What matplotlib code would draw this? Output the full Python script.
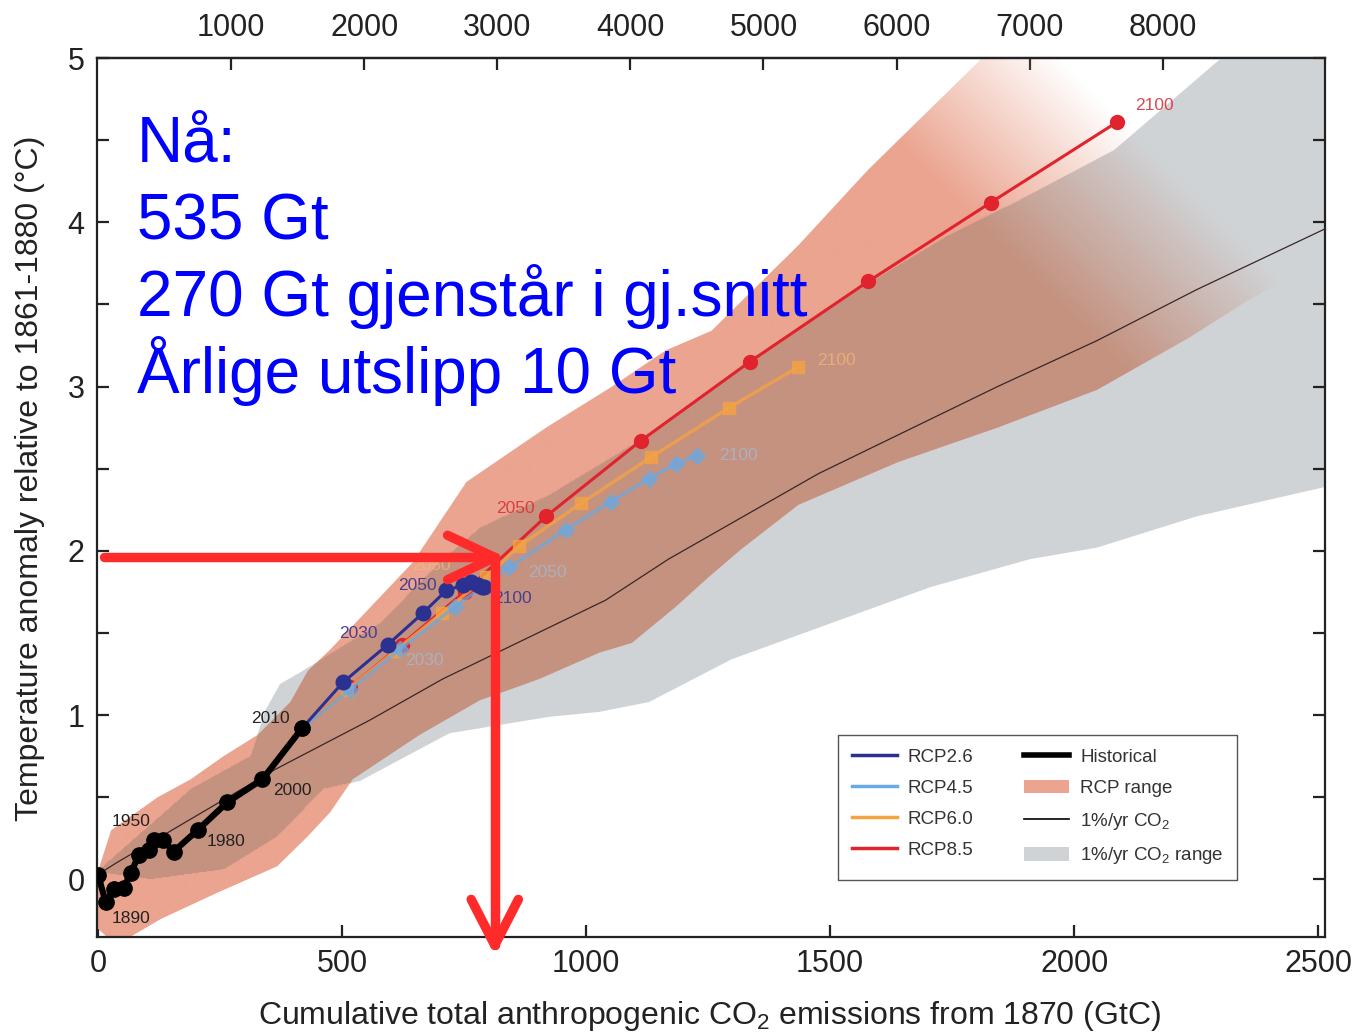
import numpy as np
import matplotlib
matplotlib.use("Agg")
import matplotlib.pyplot as plt
from matplotlib.path import Path
from matplotlib.patches import Polygon, Patch
from matplotlib.lines import Line2D

plt.rcParams['font.family'] = ['Liberation Sans', 'DejaVu Sans']
plt.rcParams['mathtext.fontset'] = 'custom'
plt.rcParams['mathtext.rm'] = 'Liberation Sans'
plt.rcParams['mathtext.it'] = 'Liberation Sans:italic'
plt.rcParams['mathtext.bf'] = 'Liberation Sans:bold'

# ---------------- data (GtC, degC) ----------------
hist_x = [0, 16, 33, 53, 67, 84, 104, 114, 133, 155, 204, 265, 337, 418]
hist_y = [0.03, -0.14, -0.06, -0.05, 0.04, 0.15, 0.18, 0.24, 0.24, 0.17, 0.30, 0.47, 0.61, 0.92]

rcp26_x = [418, 502, 594, 665, 714, 747, 765, 778, 786, 790]
rcp26_y = [0.92, 1.20, 1.43, 1.62, 1.76, 1.79, 1.81, 1.79, 1.78, 1.78]
rcp45_x = [418, 516, 618, 731, 843, 959, 1051, 1129, 1184, 1227]
rcp45_y = [0.92, 1.155, 1.40, 1.66, 1.90, 2.13, 2.30, 2.44, 2.53, 2.58]
rcp60_x = [418, 510, 608, 704, 796, 863, 990, 1133, 1292, 1435]
rcp60_y = [0.92, 1.155, 1.39, 1.62, 1.84, 2.03, 2.29, 2.57, 2.87, 3.12]
rcp85_x = [418, 516, 622, 751, 918, 1112, 1335, 1578, 1829, 2088]
rcp85_y = [0.92, 1.17, 1.43, 1.75, 2.21, 2.67, 3.15, 3.64, 4.12, 4.61]

pct_x = [0, 37, 363, 557, 706, 1040, 1169, 1476, 1843, 2047, 2251, 2514]
pct_y = [0.03, 0.10, 0.67, 0.97, 1.22, 1.70, 1.95, 2.47, 3.00, 3.28, 3.59, 3.96]

grey_upper_x = [6, 190, 312, 343, 373, 414, 578, 700, 782, 924, 1108, 1333, 1578, 1741, 1884, 2082, 2341, 2530]
grey_upper_y = [0.07, 0.55, 0.75, 1.03, 1.19, 1.26, 1.56, 1.93, 2.14, 2.34, 2.67, 3.15, 3.63, 3.92, 4.13, 4.44, 5.1, 5.1]
grey_lower_x = [2530, 2251, 2047, 1910, 1706, 1502, 1298, 1129, 1027, 924, 720, 537, 461, 367, 257, 108, 6]
grey_lower_y = [2.40, 2.21, 2.02, 1.95, 1.78, 1.56, 1.34, 1.08, 1.02, 0.99, 0.89, 0.60, 0.55, 0.26, 0.06, 0.0, 0.04]

rcp_upper_x = [0, 27, 122, 190, 257, 327, 394, 430, 476, 645, 755, 918, 1053, 1163, 1257, 1435, 1578, 1846, 2350]
rcp_upper_y = [0.05, 0.30, 0.50, 0.61, 0.75, 0.88, 1.08, 1.27, 1.40, 1.93, 2.42, 2.75, 3.00, 3.22, 3.34, 3.86, 4.32, 5.1, 5.1]
rcp_lower_x = [2450, 2414, 2359, 2237, 2047, 1843, 1639, 1435, 1318, 1251, 1184, 1094, 1027, 904, 782, 659, 522, 476, 429, 367, 245, 129, 37, 0]
rcp_lower_y = [3.90, 3.62, 3.53, 3.30, 2.98, 2.75, 2.54, 2.28, 2.01, 1.84, 1.66, 1.44, 1.38, 1.22, 1.09, 0.88, 0.61, 0.41, 0.26, 0.08, -0.08, -0.24, -0.40, -0.30]

# year labels: (text, x, y)
hist_labels = [("1890", 67, -0.24), ("1950", 67, 0.35), ("1980", 263, 0.23),
               ("2000", 398, 0.54), ("2010", 353, 0.98)]
rcp26_labels = [("2030", 533, 1.50), ("2050", 655, 1.79), ("2100", 849, 1.71)]
rcp45_labels = [("2030", 669, 1.33), ("2050", 920, 1.87), ("2100", 1312, 2.58)]
rcp60_labels = [("2050", 684, 1.91), ("2100", 1512, 3.16)]
rcp85_labels = [("2050", 855, 2.26), ("2100", 2165, 4.71)]

bottom_ticks = [0, 500, 1000, 1500, 2000, 2500]
top_ticks = [1000, 2000, 3000, 4000, 5000, 6000, 7000, 8000, 9000]
top_labels = ["1000", "2000", "3000", "4000", "5000", "6000", "7000", "8000", ""]
y_ticks = [0, 0.5, 1, 1.5, 2, 2.5, 3, 3.5, 4, 4.5, 5]
y_labels = ["0", "", "1", "", "2", "", "3", "", "4", "", "5"]

note_lines = ["Nå:", "535 Gt", "270 Gt gjenstår i gj.snitt", "Årlige utslipp 10 Gt"]
ARROW_X = 813      # GtC
ARROW_Y = 1.96     # degC
ARROW_Y_END = -0.40
CO2_PER_C = 3.667

# ---------------- style ----------------
C26 = '#2b3190'
C45 = '#66aae6'
C60 = '#f5a243'
C85 = '#e0232d'
SALMON = np.array([235, 164, 143]) / 255
BROWN = np.array([197, 146, 128]) / 255
GREY = '#d0d3d6'
RED = '#ff2b2b'
BLUE = '#0000ff'

fig = plt.figure(figsize=(13.56, 10.33), dpi=100)
ax = fig.add_axes([97/1356, 1-937/1033, (1325-97)/1356, (937-58)/1033])
XMIN, XMAX, YMIN, YMAX = -2, 2514, -0.35, 5

# grey 1%/yr range
grey_poly = np.column_stack([grey_upper_x + grey_lower_x, grey_upper_y + grey_lower_y])
ax.add_patch(Polygon(grey_poly, closed=True, facecolor=GREY, edgecolor='none', zorder=1))

# RCP range with fade, darker where it overlaps the grey range
rcp_poly = np.column_stack([rcp_upper_x + rcp_lower_x, rcp_upper_y + rcp_lower_y])
nx, ny = 1230, 880
xs = np.linspace(XMIN, XMAX, nx)
ys = np.linspace(YMIN, YMAX, ny)
XX, YY = np.meshgrid(xs, ys)
inside = Path(grey_poly).contains_points(np.column_stack([XX.ravel(), YY.ravel()])).reshape(ny, nx)
s = XX + 335.7 * YY
fade = np.clip((3650 - s) / (3650 - 3150), 0, 1)
rgba = np.zeros((ny, nx, 4))
rgba[..., :3] = np.where(inside[..., None], BROWN, SALMON)
rgba[..., 3] = fade
im = ax.imshow(rgba, extent=(XMIN, XMAX, YMIN, YMAX), origin='lower', aspect='auto',
               interpolation='bilinear', zorder=2)
clip = Polygon(rcp_poly, closed=True, facecolor='none', edgecolor='none', transform=ax.transData)
ax.add_patch(clip)
im.set_clip_path(clip)

# 1%/yr CO2 line
ax.plot(pct_x, pct_y, color='#3a2626', lw=0.9, zorder=3)

# RCP lines
ax.plot(rcp85_x, rcp85_y, color=C85, lw=2.2, marker='o', ms=10, zorder=4)
ax.plot(rcp60_x, rcp60_y, color=C60, lw=2.4, marker='s', ms=9, alpha=0.8, zorder=4)
ax.plot(rcp45_x, rcp45_y, color=C45, lw=2.4, marker='D', ms=8, alpha=0.7, zorder=4)
ax.plot(rcp26_x, rcp26_y, color=C26, lw=2.2, marker='o', ms=10.5, zorder=5)

# historical
ax.plot(hist_x, hist_y, color='black', lw=4.5, marker='o', ms=11, zorder=6)

lab_kw = dict(fontsize=12.5, ha='center', va='center', zorder=7)
for t, x, y in hist_labels:
    ax.text(x, y, t, color='#222222', **lab_kw)
for t, x, y in rcp26_labels:
    ax.text(x, y, t, color='#4a3f8e', **lab_kw)
for t, x, y in rcp45_labels:
    ax.text(x, y, t, color='#9cc4ea', alpha=0.6, **lab_kw)
for t, x, y in rcp60_labels:
    ax.text(x, y, t, color='#f6b877', alpha=0.7, **lab_kw)
for t, x, y in rcp85_labels:
    ax.text(x, y, t, color='#d8343c', alpha=0.9, **lab_kw)

ax.set_xlim(XMIN, XMAX)
ax.set_ylim(YMIN, YMAX)

# axes styling
for sp in ax.spines.values():
    sp.set_linewidth(1.6)
    sp.set_color('#222222')
ax.set_xticks(bottom_ticks)
ax.set_xticklabels([str(v) for v in bottom_ticks])
ax.set_yticks(y_ticks)
ax.set_yticklabels(y_labels)
ax.tick_params(axis='both', direction='in', length=8.5, width=1.6, color='#222222',
               labelsize=22, labelcolor='#222222')
ax.tick_params(axis='x', pad=9)
ax.tick_params(axis='y', pad=9, right=True)

sec = ax.secondary_xaxis('top', functions=(lambda v: v * CO2_PER_C, lambda v: v / CO2_PER_C))
sec.set_xticks(top_ticks)
sec.set_xticklabels(top_labels)
sec.tick_params(direction='in', length=8.5, width=1.6, color='#222222', labelsize=22,
                labelcolor='#222222', pad=11)
sec.spines['top'].set_linewidth(1.6)

ax.set_xlabel(r'Cumulative total anthropogenic CO$_\mathregular{2}$ emissions from 1870 (GtC)',
              fontsize=23, color='#222222')
ax.xaxis.label.set_va('center')
ax.xaxis.set_label_coords((709-97)/1228, (937-1016)/879)
ax.set_ylabel('Temperature anomaly relative to 1861-1880 (°C)', fontsize=23, color='#222222')
ax.yaxis.label.set_va('center')
ax.yaxis.set_label_coords((30-97)/1228, (937-478)/879)

# legend
handles = [Line2D([], [], color=C26, lw=2.5), Line2D([], [], color=C45, lw=2.5),
           Line2D([], [], color=C60, lw=2.5), Line2D([], [], color=C85, lw=2.5),
           Line2D([], [], color='black', lw=4), Patch(facecolor=SALMON, edgecolor='none'),
           Line2D([], [], color='black', lw=1.2), Patch(facecolor=GREY, edgecolor='none')]
labels = ['RCP2.6', 'RCP4.5', 'RCP6.0', 'RCP8.5', 'Historical', 'RCP range',
          r'1%/yr CO$_\mathregular{2}$', r'1%/yr CO$_\mathregular{2}$ range']
leg = ax.legend(handles, labels, ncol=2, loc='lower left',
                bbox_to_anchor=((838-97)/1228, (937-880)/879), fontsize=13.5,
                frameon=True, fancybox=False, framealpha=1, edgecolor='#555555',
                handlelength=2.4, handletextpad=0.6, columnspacing=2.7,
                labelspacing=0.74, borderpad=0.72, borderaxespad=0)
leg.get_frame().set_linewidth(1.0)
for t in leg.get_texts():
    t.set_color('#333333')
leg.set_zorder(10)

# blue notes
for i, line in enumerate(note_lines):
    fig.text(137/1356, 1 - (162 + 77*i)/1033, line, color=BLUE, fontsize=46,
             ha='left', va='baseline', zorder=20)

# red arrows
ax.plot([12, ARROW_X], [ARROW_Y, ARROW_Y], color=RED, lw=6.8, solid_capstyle='round', zorder=9)
ax.plot([ARROW_X, ARROW_X], [ARROW_Y, ARROW_Y_END], color=RED, lw=6.8, solid_capstyle='round',
        zorder=9, clip_on=False)
arm = dict(arrowstyle='-', color=RED, lw=6.8, shrinkA=0, shrinkB=0, capstyle='round')
for dx, dy in [(-34, 16), (-34, -16)]:
    ax.annotate('', xy=(ARROW_X, ARROW_Y), xytext=(dx, dy), textcoords='offset points',
                arrowprops=arm, annotation_clip=False, zorder=9)
for dx, dy in [(-17, 33), (17, 33)]:
    ax.annotate('', xy=(ARROW_X, ARROW_Y_END), xytext=(dx, dy), textcoords='offset points',
                arrowprops=arm, annotation_clip=False, zorder=9)

fig.savefig('out.png', dpi=100)
